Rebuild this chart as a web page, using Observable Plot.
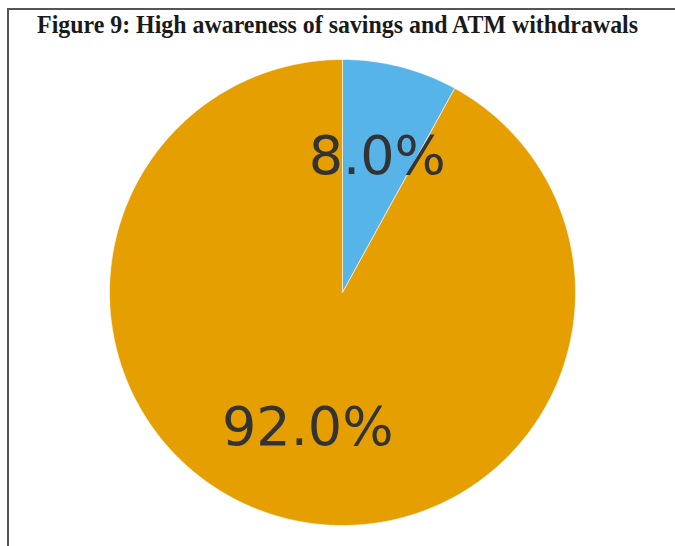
<!DOCTYPE html>
<html>
<head>
<meta charset="utf-8">
<script src="https://cdn.jsdelivr.net/npm/d3@7"></script>
<script src="https://cdn.jsdelivr.net/npm/@observablehq/plot@0.6"></script>
<style>
  html, body { margin: 0; padding: 0; background: #fff; }
  #page { position: relative; width: 675px; height: 546px; overflow: hidden; }
  #frame { position: absolute; left: 7px; top: 8px; width: 720px; height: 600px;
           border-top: 2px solid #555; border-left: 2px solid #555; box-sizing: border-box; }
  #title { position: absolute; left: 0; top: 10px; width: 675px; text-align: center;
           font-family: "Liberation Serif", "Times New Roman", serif; font-weight: bold;
           font-size: 25px; line-height: 30px; color: #1a1a1a; white-space: nowrap;
           transform: scaleX(0.955); transform-origin: 339px 0; }
  #chart { position: absolute; left: 0; top: 0; }
</style>
</head>
<body>
<div id="page">
  <div id="frame"></div>
  <div id="chart"></div>
  <div id="title">Figure 9: High awareness of savings and ATM withdrawals</div>
</div>
<script>
const categories = ["Not aware", "Aware"];
const values = [8.0, 92.0];
const colors = ["#56B4E9", "#E69F00"];
const labelText = ["8.0%", "92.0%"];

const table = categories.map((c, i) => ({category: c, value: values[i], label: labelText[i]}));
const arcs = d3.pie().sort(null).value(d => d.value)(table);

// polygon points for each wedge (unit circle, angles clockwise from top)
const wedgePts = [];
arcs.forEach(a => {
  const c = a.data.category;
  wedgePts.push({category: c, x: 0, y: 0});
  const n = Math.max(2, Math.ceil((a.endAngle - a.startAngle) / (Math.PI / 360)));
  for (let k = 0; k <= n; k++) {
    const t = a.startAngle + (a.endAngle - a.startAngle) * k / n;
    wedgePts.push({category: c, x: Math.sin(t), y: Math.cos(t)});
  }
  wedgePts.push({category: c, x: 0, y: 0});
});

const labelPts = arcs.map(a => {
  const m = (a.startAngle + a.endAngle) / 2;
  return {label: a.data.label, x: 0.6 * Math.sin(m), y: 0.6 * Math.cos(m)};
});

const plot = Plot.plot({
  width: 675,
  height: 546,
  margin: 0,
  x: {domain: [-1, 1], range: [109, 575], axis: null},
  y: {domain: [-1, 1], range: [525, 59], axis: null},
  color: {domain: categories, range: colors},
  marks: [
    Plot.line(wedgePts, {x: "x", y: "y", z: "category", fill: "category",
      stroke: "#ffffff", strokeWidth: 1, strokeOpacity: 0.6, curve: "linear"}),
    Plot.text(labelPts, {x: "x", y: "y", text: "label", fontSize: 54,
      fill: "#333333", fontFamily: "DejaVu Sans", textAnchor: "middle", lineAnchor: "middle"})
  ]
});
document.getElementById("chart").appendChild(plot);
</script>
</body>
</html>
